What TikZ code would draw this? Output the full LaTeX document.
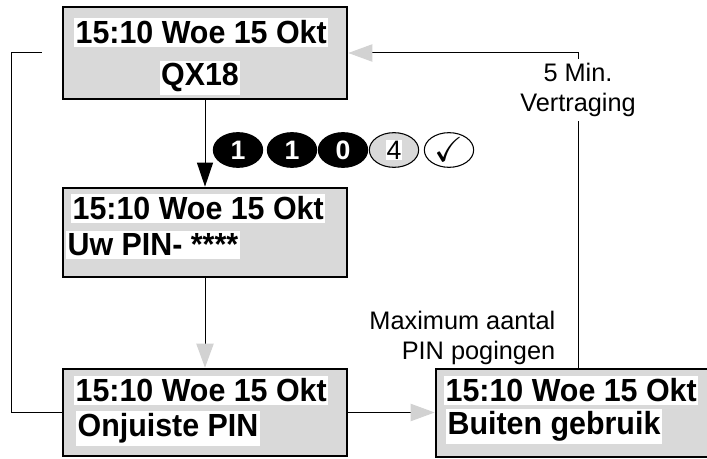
\documentclass[tikz,border=0pt]{standalone}
\usepackage{amssymb}
\usepackage{fontspec}
\setmainfont{Liberation Sans}
\newfontfamily\lcdfont[FakeStretch=0.95]{Liberation Sans}
\usetikzlibrary{arrows.meta,shapes.geometric}

\begin{document}
\begin{tikzpicture}[x=0.75pt,y=-0.75pt,
		screen/.style={rectangle,draw,fill=gray!30,line width=2pt,minimum width=213pt,inner sep=0pt},
		row/.style={anchor=base west,fill=white,inner xsep=1pt,inner ysep=2pt,font=\lcdfont\fontsize{24}{28}\selectfont\bfseries},
		key/.style={ellipse,draw,line width=0.8pt,minimum width=37pt,minimum height=26pt,inner sep=0pt,font=\fontsize{20}{20}\selectfont},
		pressed/.style={fill=black,text=white,font=\fontsize{20}{20}\selectfont\bfseries},
		note/.style={font=\fontsize{19}{22}\selectfont},
		link/.style={line width=0.75pt},
		go/.style={-{Triangle[length=18pt,width=12pt]}},
		wait/.style={-{Triangle[length=18pt,width=13pt,color=gray!35]}},
		]
		\useasboundingbox (0,0) rectangle (707,459);

		\node[screen,minimum height=69pt   ] (qx)    at (205,53)    {};
		\node[screen,minimum height=66.75pt] (pin)   at (205,232.5) {};
		\node[screen,minimum height=65.25pt] (wrong) at (205,412.5) {};
		\node[screen,minimum height=66pt,minimum width=207pt] (block) at (574,413) {};

		\node[row]            (qx-a)    at (74,44)   {15:10 Woe 15 Okt};
		\node[row,anchor=base](qx-b)    at (200,86)  {QX18};
		\node[row]            (pin-a)   at (71,220)  {15:10 Woe 15 Okt};
		\node[row]            (pin-b)   at (66,256)  {Uw PIN- ****};
		\node[row]            (wrong-a) at (74,402)  {15:10 Woe 15 Okt};
		\node[row]            (wrong-b) at (76,437)  {Onjuiste PIN};
		\node[row]            (block-a) at (444,402) {15:10 Woe 15 Okt};
		\node[row]            (block-b) at (446,435) {Buiten gebruik};

		\node[key,pressed]     (k1) at (238,150) {1};
		\node[key,pressed]     (k2) at (292,150) {1};
		\node[key,pressed]     (k3) at (343,150) {0};
		\node[key,fill=gray!30](k4) at (394,150) {\setlength{\fboxsep}{0.5pt}\colorbox{white}{4}};
		\node[key]             (k5) at (449,150) {\fontsize{26}{26}\selectfont$\checkmark$};

		\node[note,align=center]           (delay)  at (578,90)  {5 Min.\\Vertraging};
		\node[note,align=right,anchor=east](maxtry) at (560,338) {Maximum aantal\\PIN pogingen};

		\coordinate (back) at (42,53);

		\draw[link,go]   (qx) -- (pin);
		\draw[link,wait] (pin) -- (wrong);
		\draw[link,wait] (wrong.east) -- (wrong.east -| block.west);
		\draw[link]      (block.north -| delay.south) -- (delay.south);
		\draw[link,wait] (delay.north) |- (qx.east);
		\draw[link]      (wrong.west) -- ++(-50,0) |- (back);
\end{tikzpicture}
\end{document}
